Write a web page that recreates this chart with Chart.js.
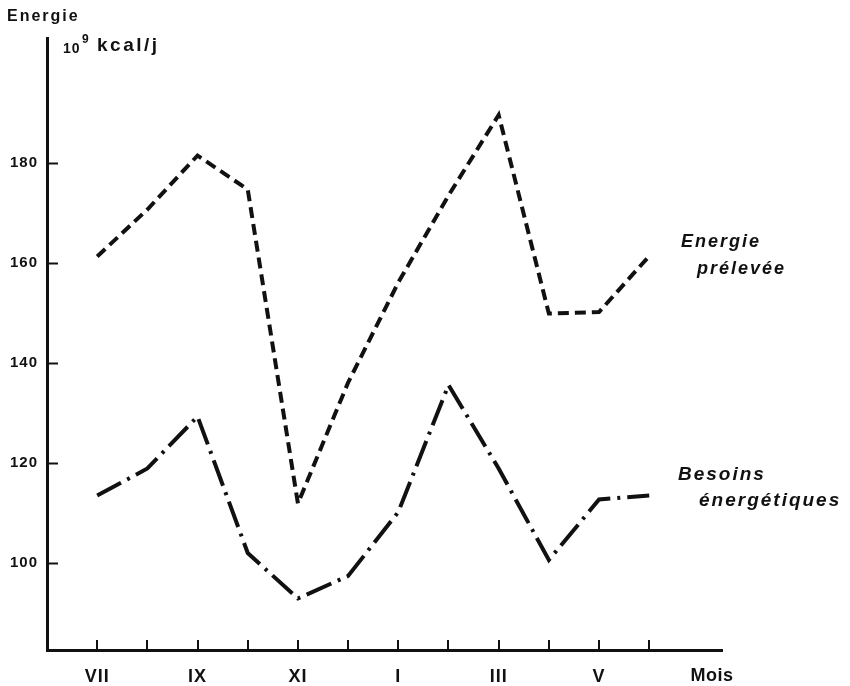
<!DOCTYPE html>
<html>
<head>
<meta charset="utf-8">
<script src="https://cdn.jsdelivr.net/npm/chart.js@4"></script>
<style>
  html, body { margin: 0; padding: 0; background: #ffffff; }
  #wrap { width: 850px; height: 686px; }
</style>
</head>
<body>
<div id="wrap"><canvas id="c" width="850" height="686"></canvas></div>
<script>
// ---- Data ----
const months = ['VII','VIII','IX','X','XI','XII','I','II','III','IV','V','VI'];
const monthTickLabels = ['VII','','IX','','XI','','I','','III','','V',''];
const energiePrelevee = [161.2, 170.6, 181.4, 174.6, 111.8, 136, 156, 173.4, 189.5, 149.8, 150.1, 161.3];
const besoinsEnergetiques = [113.4, 118.8, 129.2, 101.9, 92.8, 97.3, 110.1, 135.5, 118.8, 100.5, 112.6, 113.4];
const yTickValues = [100, 120, 140, 160, 180];

const INK = '#111111';
const FONT = '"Liberation Sans", Arial, Helvetica, sans-serif';

const toPoints = arr => arr.map((v, i) => ({ x: i, y: v }));

const spacingPlugin = {
  id: 'spacing',
  beforeDraw(chart) { chart.ctx.letterSpacing = '1px'; },
  afterDatasetsDraw(chart) { chart.ctx.letterSpacing = '0px'; }
};

const decorPlugin = {
  id: 'decor',
  afterDraw(chart) {
    const ctx = chart.ctx;
    const xs = chart.scales.x, ys = chart.scales.y;
    const area = chart.chartArea;
    ctx.save();
    ctx.letterSpacing = '0px';
    ctx.strokeStyle = INK;
    ctx.lineWidth = 2;
    // inward tick marks on the y axis
    yTickValues.forEach(v => {
      const py = Math.round(ys.getPixelForValue(v)) + 0.5;
      ctx.beginPath();
      ctx.moveTo(area.left + 2, py);
      ctx.lineTo(area.left + 11, py);
      ctx.stroke();
    });
    // inward tick marks on the x axis
    months.forEach((m, i) => {
      const px = Math.round(xs.getPixelForValue(i));
      ctx.beginPath();
      ctx.moveTo(px, area.bottom - 1);
      ctx.lineTo(px, area.bottom - 10);
      ctx.stroke();
    });
    // texts
    ctx.fillStyle = INK;
    ctx.textBaseline = 'middle';
    ctx.textAlign = 'left';
    ctx.letterSpacing = '2px';
    ctx.font = 'bold 16px ' + FONT;
    ctx.fillText('Energie', 7, 17);
    ctx.letterSpacing = '1px';
    ctx.font = 'bold 14px ' + FONT;
    ctx.fillText('10', 63, 49);
    ctx.font = 'bold 12px ' + FONT;
    ctx.fillText('9', 82, 40);
    ctx.letterSpacing = '2.5px';
    ctx.font = 'bold 19px ' + FONT;
    ctx.fillText('kcal/j', 97, 46);
    // Mois
    ctx.letterSpacing = '0.5px';
    ctx.font = 'bold 18px ' + FONT;
    ctx.textAlign = 'center';
    ctx.fillText('Mois', 712, 676);
    // series labels
    ctx.textAlign = 'left';
    ctx.letterSpacing = '2px';
    ctx.font = 'italic bold 18px ' + FONT;
    ctx.fillText('Energie', 681, 242);
    ctx.fillText('prélevée', 697, 269);
    ctx.font = 'italic bold 19px ' + FONT;
    ctx.fillText('Besoins', 678, 475);
    ctx.fillText('énergétiques', 699, 501);
    ctx.restore();
  }
};

new Chart(document.getElementById('c'), {
  type: 'line',
  data: {
    datasets: [
      {
        label: 'Energie prélevée',
        data: toPoints(energiePrelevee),
        borderColor: INK,
        borderWidth: 4,
        borderDash: [11, 6],
        pointRadius: 0,
        tension: 0,
        fill: false
      },
      {
        label: 'Besoins énergétiques',
        data: toPoints(besoinsEnergetiques),
        borderColor: INK,
        borderWidth: 4,
        borderDash: [27, 7, 3, 7],
        pointRadius: 0,
        tension: 0,
        fill: false
      }
    ]
  },
  options: {
    responsive: false,
    animation: false,
    devicePixelRatio: 1,
    layout: { padding: { left: 0, top: 38, right: 128, bottom: 0 } },
    plugins: { legend: { display: false }, tooltip: { enabled: false } },
    scales: {
      x: {
        type: 'linear',
        min: -1,
        max: 12.45,
        afterBuildTicks: s => { s.ticks = months.map((m, i) => ({ value: i })); },
        afterFit: s => { s.height = 36; },
        grid: { display: false, drawTicks: false },
        border: { display: true, width: 3, color: INK },
        ticks: {
          autoSkip: false,
          maxRotation: 0,
          padding: 16,
          color: INK,
          font: { family: FONT, size: 18, weight: 'bold' },
          callback: v => monthTickLabels[v] || ''
        }
      },
      y: {
        type: 'linear',
        min: 82.5,
        max: 204.9,
        afterBuildTicks: s => { s.ticks = yTickValues.map(v => ({ value: v })); },
        afterFit: s => { s.width = 47; },
        grid: { display: false, drawTicks: false },
        border: { display: true, width: 3, color: INK },
        ticks: {
          padding: 9,
          color: INK,
          font: { family: FONT, size: 15, weight: 'bold' }
        }
      }
    }
  },
  plugins: [spacingPlugin, decorPlugin]
});
</script>
</body>
</html>
